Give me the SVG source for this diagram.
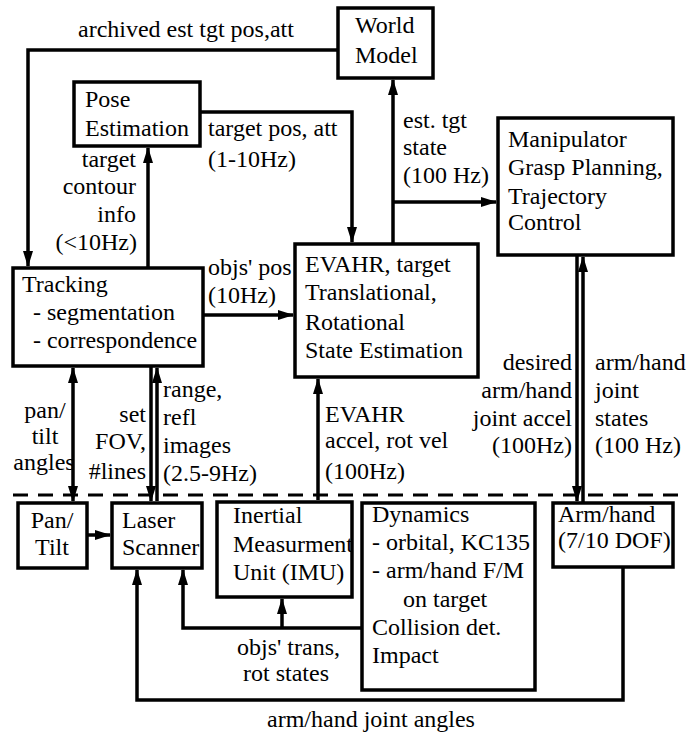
<svg xmlns="http://www.w3.org/2000/svg" width="697" height="734" viewBox="0 0 697 734" font-family="'Liberation Serif', 'DejaVu Serif', serif">
<style>
.box{fill:#fff;stroke:#000;stroke-width:3.5}
.ln{fill:none;stroke:#000;stroke-width:3.5}
text{font-family:'Liberation Serif','DejaVu Serif',serif;font-size:24px;fill:#000}
.e{text-anchor:end}
.m{text-anchor:middle}
</style>
<defs>
<marker id="ah" viewBox="0 0 16 10" refX="15" refY="5" markerWidth="16" markerHeight="10" markerUnits="userSpaceOnUse" orient="auto-start-reverse">
<path d="M0,0 L16,5 L0,10 z" fill="#000"/>
</marker>
</defs>
<rect width="697" height="734" fill="#fff"/>
<g id="connectors">
<path class="ln" d="M338,50 H28 V266" marker-end="url(#ah)"/>
<path class="ln" d="M200,112 H352 V242" marker-end="url(#ah)"/>
<path class="ln" d="M393,244 V80" marker-end="url(#ah)"/>
<path class="ln" d="M393,202 H496" marker-end="url(#ah)"/>
<path class="ln" d="M148,267 V148" marker-end="url(#ah)"/>
<path class="ln" d="M203,315 H293" marker-end="url(#ah)"/>
<path class="ln" d="M73,368 V501" marker-start="url(#ah)" marker-end="url(#ah)"/>
<path class="ln" d="M151,367 V501" marker-end="url(#ah)"/>
<path class="ln" d="M157,501 V368" marker-end="url(#ah)"/>
<path class="ln" d="M318,500 V379" marker-end="url(#ah)"/>
<path class="ln" d="M577,256 V501" marker-end="url(#ah)"/>
<path class="ln" d="M583,502 V257" marker-end="url(#ah)"/>
<path class="ln" d="M87,535 H110" marker-end="url(#ah)"/>
<path class="ln" d="M362,628 H183 V570" marker-end="url(#ah)"/>
<path class="ln" d="M282,628 V599" marker-end="url(#ah)"/>
<path class="ln" d="M623,567 V700 H137 V570" marker-end="url(#ah)"/>
<path d="M13,495 H683" fill="none" stroke="#000" stroke-width="3" stroke-dasharray="15,10"/>
<text x="78" y="37">archived est tgt pos,att</text>
<text x="208" y="136">target pos, att</text>
<text x="208" y="167">(1-10Hz)</text>
<text class="e" x="136" y="167">target</text>
<text class="e" x="136" y="194">contour</text>
<text class="e" x="136" y="222">info</text>
<text class="e" x="137" y="250">(&lt;10Hz)</text>
<text x="403" y="128">est. tgt</text>
<text x="403" y="155">state</text>
<text x="403" y="183">(100 Hz)</text>
<text x="208" y="275">objs' pos</text>
<text x="208" y="303">(10Hz)</text>
<text class="m" x="45" y="418">pan/</text>
<text class="m" x="45" y="444">tilt</text>
<text class="m" x="44" y="470">angles</text>
<text class="e" x="146" y="422">set</text>
<text class="e" x="146" y="449">FOV,</text>
<text class="e" x="146" y="479">#lines</text>
<text x="163" y="397">range,</text>
<text x="163" y="425">refl</text>
<text x="163" y="453">images</text>
<text x="163" y="481">(2.5-9Hz)</text>
<text x="325" y="422">EVAHR</text>
<text x="325" y="448">accel, rot vel</text>
<text x="325" y="479">(100Hz)</text>
<text class="e" x="572" y="370">desired</text>
<text class="e" x="572" y="398">arm/hand</text>
<text class="e" x="572" y="426">joint accel</text>
<text class="e" x="572" y="453">(100Hz)</text>
<text x="595" y="370">arm/hand</text>
<text x="595" y="398">joint</text>
<text x="595" y="426">states</text>
<text x="595" y="453">(100 Hz)</text>
<text x="237" y="655">objs' trans,</text>
<text x="243" y="681">rot states</text>
<text x="267" y="727">arm/hand joint angles</text>
</g>
<g id="world-model">
<rect class="box" x="338" y="8" width="95" height="70"/>
<text x="355" y="33">World</text>
<text x="355" y="63">Model</text>
</g>
<g id="pose-estimation">
<rect class="box" x="74" y="82" width="126" height="64"/>
<text x="85" y="107">Pose</text>
<text x="85" y="136">Estimation</text>
</g>
<g id="manipulator">
<rect class="box" x="498" y="118" width="175" height="137"/>
<text x="508" y="147">Manipulator</text>
<text x="508" y="175">Grasp Planning,</text>
<text x="508" y="204">Trajectory</text>
<text x="508" y="230">Control</text>
</g>
<g id="evahr">
<rect class="box" x="295" y="244" width="183" height="133"/>
<text x="305" y="272">EVAHR, target</text>
<text x="305" y="300">Translational,</text>
<text x="305" y="330">Rotational</text>
<text x="305" y="358">State Estimation</text>
</g>
<g id="tracking">
<rect class="box" x="13" y="268" width="190" height="98"/>
<text x="22" y="292">Tracking</text>
<text x="33" y="320">- segmentation</text>
<text x="33" y="348" textLength="164" lengthAdjust="spacingAndGlyphs">- correspondence</text>
</g>
<g id="pan-tilt">
<rect class="box" x="18" y="503" width="69" height="65"/>
<text class="m" x="52" y="528">Pan/</text>
<text class="m" x="52" y="555">Tilt</text>
</g>
<g id="laser-scanner">
<rect class="box" x="112" y="503" width="90" height="65"/>
<text x="122" y="528">Laser</text>
<text x="122" y="555">Scanner</text>
</g>
<g id="imu">
<rect class="box" x="217" y="502" width="135" height="95"/>
<text x="233" y="523">Inertial</text>
<text x="233" y="552">Measurment</text>
<text x="233" y="580">Unit (IMU)</text>
</g>
<g id="dynamics">
<rect class="box" x="362" y="503" width="173" height="187"/>
<text x="372" y="522">Dynamics</text>
<text x="372" y="550">- orbital, KC135</text>
<text x="372" y="578">- arm/hand F/M</text>
<text x="403" y="607">on target</text>
<text x="372" y="635">Collision  det.</text>
<text x="372" y="663">Impact</text>
</g>
<g id="arm-hand">
<rect class="box" x="553" y="503" width="120" height="64"/>
<text x="558" y="522">Arm/hand</text>
<text x="558" y="548">(7/10 DOF)</text>
</g>
</svg>
